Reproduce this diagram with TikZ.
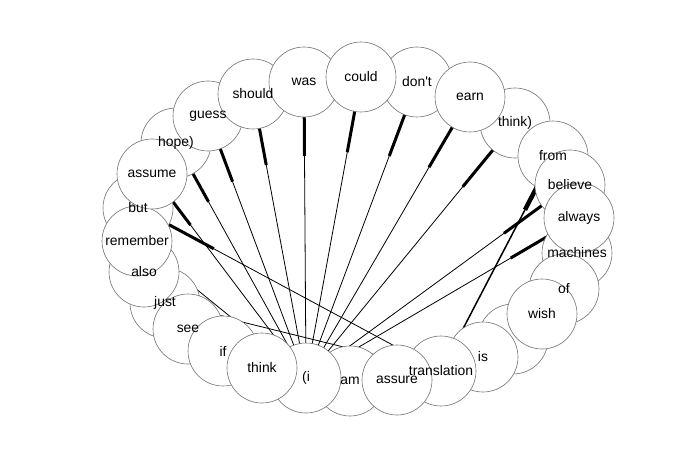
\documentclass[tikz,border=0pt]{standalone}
\usepackage{fontspec}
\setmainfont{Liberation Sans}[Ligatures=TeXOff]
\usetikzlibrary{calc}
\pgfdeclarelayer{back}
\pgfdeclarelayer{bg}
\pgfdeclarelayer{fg}
\pgfsetlayers{back,bg,main,fg}
\tikzset{
  wnode/.style={circle,draw=black!55,line width=0.6pt,fill=white,minimum size=70pt,inner sep=0pt},
  wlabel/.style={inner sep=0pt,font=\fontsize{13.9}{16}\selectfont},
  edge/.style={line width=0.8pt,black},
  edgeb/.style={line width=1.5pt,black},
  arrowseg/.style={line width=3pt,black},
  arrowsegb/.style={line width=4.5pt,black}
}
\newcommand{\nd}[3]{\node[wnode] (#1) at (#2) {};\begin{pgfonlayer}{fg}\node[wlabel] (#1-l) at (#1.center) {#3};\end{pgfonlayer}}
\newcommand{\ed}[2]{\begin{pgfonlayer}{bg}\draw[edge] (#1.center) -- (#2.center);\draw[arrowseg] ($(#2.center)!0.25!(#1.center)$) -- (#2.center);\end{pgfonlayer}}
\begin{document}
\begin{tikzpicture}[x=1pt,y=-1pt]
\useasboundingbox (0,0) rectangle (686,476);
\begin{pgfonlayer}{back}
\fill[white] (0,0) rectangle (686,476);
\end{pgfonlayer}
\nd{hope}{176,143}{hope)}
\nd{guess}{208,116}{guess}
\nd{should}{253,94}{should}
\nd{was}{304,82}{was}
\nd{dont}{417,82}{don't}
\nd{could}{361,77}{could}
\nd{thinkp}{515,123}{think)}
\nd{earn}{470,97}{earn}
\nd{from}{553,156}{from}
\nd{believe}{570,185}{believe}
\nd{machines}{577,253}{machines}
\nd{always}{579,218}{always}
\nd{of}{564,289}{of}
\nd{blank}{513,339}{}
\nd{wish}{542,314}{wish}
\nd{is}{483,357}{is}
\nd{translation}{441,371}{translation}
\nd{am}{350,381}{am}
\nd{i}{306,378}{(i}
\nd{assure}{397,380}{assure}
\nd{just}{165,303}{just}
\nd{see}{188,329}{see}
\nd{if}{223,351}{if}
\nd{think}{262,368}{think}
\nd{but}{138,208}{but}
\nd{also}{144,272}{also}
\nd{remember}{137,241}{remember}
\nd{assume}{152,174}{assume}
\ed{i}{hope}
\ed{i}{guess}
\ed{i}{should}
\ed{i}{was}
\ed{i}{could}
\ed{i}{dont}
\ed{i}{earn}
\ed{i}{thinkp}
\ed{i}{believe}
\ed{i}{always}
\ed{i}{assume}
\ed{i}{remember}
\ed{translation}{but}
\ed{translation}{just}
\begin{pgfonlayer}{bg}
\draw[edgeb] (translation.center) -- (from.center);
\draw[arrowsegb] ($(from.center)!0.25!(translation.center)$) -- (from.center);
\end{pgfonlayer}
\end{tikzpicture}
\end{document}
